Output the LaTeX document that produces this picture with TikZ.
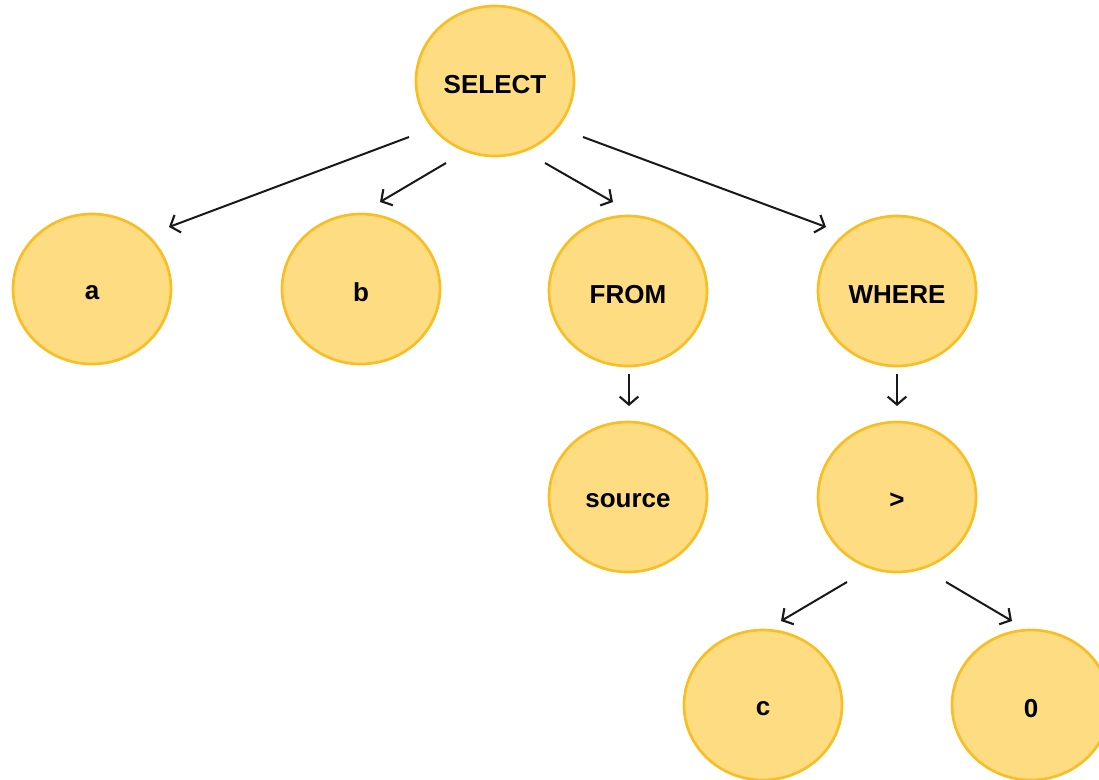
\documentclass[tikz,border=0pt]{standalone}
\usepackage{fontspec}
\setmainfont{Liberation Sans}
\usetikzlibrary{shapes.geometric,arrows.meta,calc}
\definecolor{nodefill}{RGB}{253,220,130}
\definecolor{nodeline}{RGB}{249,190,35}
\definecolor{arrowcol}{RGB}{25,25,25}
\newcommand{\lbl}[1]{\raisebox{-2.7pt}[\height][\depth]{#1}}
\tikzset{
  tn/.style={ellipse, draw=nodeline, fill=nodefill, line width=2pt,
    minimum width=118.5pt, minimum height=112.5pt, inner sep=0pt,
    font=\fontsize{19.5}{21}\selectfont\bfseries, text=black},
  arr/.style={draw=arrowcol, line width=1.5pt, -{Straight Barb[length=6pt,width=14pt,line width=1.6pt]}}
}
\begin{document}
\begin{tikzpicture}[x=0.75pt,y=-0.75pt]
\useasboundingbox (0,0) rectangle (1099,779);
\node[tn] (sel) at (495,81) {\lbl{SELECT}};
\node[tn] (a) at (92,289) {\lbl{a}};
\node[tn] (b) at (361,289) {\lbl{b}};
\node[tn] (from) at (628,291) {\lbl{FROM}};
\node[tn] (where) at (897,291) {\lbl{WHERE}};
\node[tn] (src) at (628,497) {\lbl{source}};
\node[tn] (gt) at (897,497) {\lbl{>}};
\node[tn] (c) at (763,705) {\lbl{c}};
\node[tn] (zero) at (1031,705) {\lbl{0}};

\draw[arr] ($(sel)+(-86,56)$) -- ($(a)+(77,-62)$);
\draw[arr] ($(sel)+(-49,82)$) -- ($(b)+(19,-87)$);
\draw[arr] ($(sel)+(50,82)$) -- ($(from)+(-15,-89)$);
\draw[arr] ($(sel)+(88,56)$) -- ($(where)+(-71,-64)$);
\draw[arr] ($(from)+(1,83)$) -- ($(src)+(1,-91)$);
\draw[arr] ($(where)+(0,83)$) -- ($(gt)+(0,-91)$);
\draw[arr] ($(gt)+(-50,85)$) -- ($(c)+(18,-84)$);
\draw[arr] ($(gt)+(49,85)$) -- ($(zero)+(-19,-84)$);
\end{tikzpicture}
\end{document}
